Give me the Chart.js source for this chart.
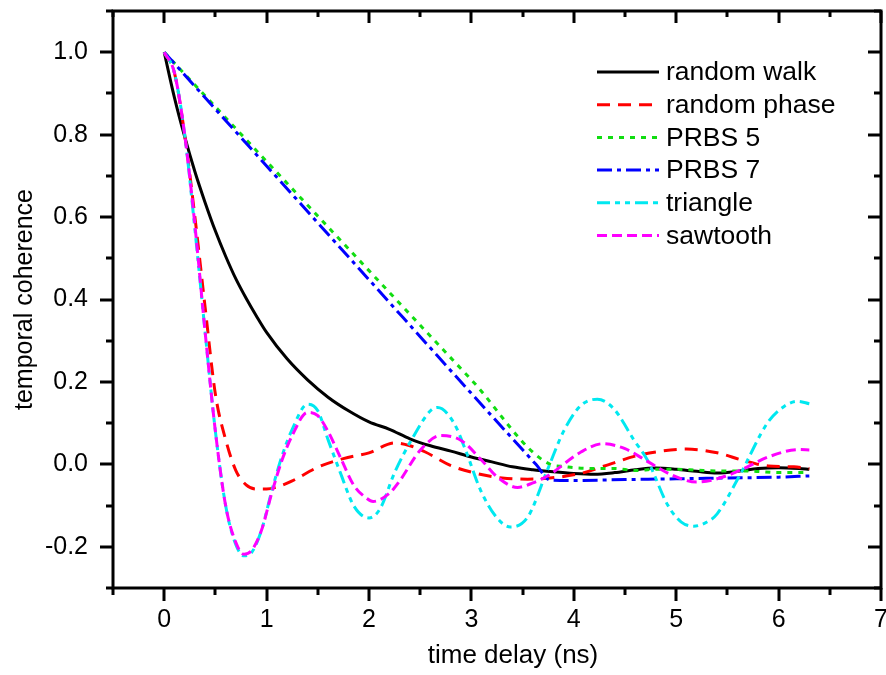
<!DOCTYPE html>
<html>
<head>
<meta charset="utf-8">
<script src="https://cdn.jsdelivr.net/npm/chart.js@4.4.0/dist/chart.umd.min.js"></script>
<style>
  html, body { margin: 0; padding: 0; background: #fff; }
</style>
</head>
<body>
<canvas id="coherence-chart" width="886" height="675"></canvas>
<script>
// series (time delay in ns, temporal coherence)
const seriesNames = ["random walk", "random phase", "PRBS 5", "PRBS 7", "triangle", "sawtooth"];

const tWalk = [0, 0.1, 0.2, 0.3, 0.4, 0.5, 0.6, 0.7, 0.8, 0.9, 1.0, 1.2, 1.4, 1.6, 1.8, 2.0, 2.2, 2.4, 2.6, 2.8, 3.0,
  3.2, 3.4, 3.6, 3.8, 4.0, 4.2, 4.4, 4.6, 4.8, 5.0, 5.2, 5.4, 5.6, 5.8, 6.0, 6.2, 6.3];
const walk = [1.0, 0.89, 0.795, 0.71, 0.635, 0.566, 0.505, 0.45, 0.403, 0.36, 0.32, 0.256, 0.205, 0.163, 0.13, 0.103, 0.085, 0.062, 0.045, 0.032, 0.018,
  0.006, -0.006, -0.013, -0.018, -0.022, -0.024, -0.02, -0.013, -0.009, -0.012, -0.017, -0.021, -0.017, -0.01, -0.008, -0.01, -0.012];

const tPhase = [0, 0.1, 0.2, 0.3, 0.4, 0.5, 0.6, 0.7, 0.8, 0.9, 1.0, 1.1, 1.25, 1.5, 1.75, 2.0, 2.25, 2.4, 2.55, 2.8, 3.05,
  3.3, 3.55, 3.85, 4.1, 4.3, 4.6, 4.85, 5.1, 5.4, 5.65, 5.9, 6.15, 6.3];
const phase = [1.0, 0.95, 0.8, 0.6, 0.38, 0.17, 0.06, -0.015, -0.05, -0.06, -0.06, -0.055, -0.04, -0.007, 0.014, 0.028, 0.052, 0.045, 0.03, -0.003, -0.022,
  -0.033, -0.036, -0.031, -0.02, -0.004, 0.02, 0.032, 0.037, 0.028, 0.01, -0.004, -0.006, -0.01];

const tPrbs5 = [0, 1, 2, 3, 3.77, 3.9, 4.0, 4.2, 4.4, 4.6, 4.8, 5.0, 5.2, 5.4, 5.7, 6.0, 6.3];
const prbs5 = [1.0, 0.735, 0.47, 0.205, 0.0, -0.005, -0.008, -0.01, -0.01, -0.015, -0.012, -0.012, -0.014, -0.016, -0.016, -0.02, -0.02];

const tPrbs7 = [0, 1, 2, 3, 3.63, 3.77, 4.0, 4.5, 5.0, 5.5, 6.0, 6.3];
const prbs7 = [1.0, 0.724, 0.448, 0.172, 0.0, -0.038, -0.039, -0.037, -0.035, -0.033, -0.031, -0.028];

const tTriangle = [0, 0.1, 0.2, 0.3, 0.4, 0.5, 0.6, 0.7, 0.78, 0.85, 0.95, 1.05, 1.15, 1.25, 1.4, 1.5, 1.6, 1.72, 1.85, 2.0, 2.11,
  2.25, 2.43, 2.6, 2.67, 2.83, 2.95, 3.09, 3.25, 3.38, 3.55, 3.74, 3.9, 4.07, 4.23, 4.39, 4.59, 4.72, 4.92, 5.05, 5.17,
  5.3, 5.4, 5.63, 5.89, 6.05, 6.19, 6.3];
const triangle = [1.0, 0.95, 0.8, 0.57, 0.32, 0.08, -0.1, -0.195, -0.222, -0.215, -0.16, -0.065, 0.02, 0.085, 0.146, 0.13, 0.06, -0.02, -0.1, -0.13, -0.107,
  -0.02, 0.066, 0.13, 0.138, 0.1, 0.03, -0.063, -0.13, -0.152, -0.128, -0.015, 0.08, 0.143, 0.158, 0.135, 0.058, 0.01, -0.1, -0.14, -0.15,
  -0.14, -0.12, -0.022, 0.1, 0.14, 0.153, 0.147];

const tSawtooth = [0, 0.1, 0.2, 0.3, 0.4, 0.5, 0.6, 0.7, 0.78, 0.85, 0.95, 1.05, 1.15, 1.25, 1.4, 1.5, 1.6, 1.72, 1.85, 1.98, 2.04,
  2.2, 2.3, 2.5, 2.7, 2.9, 3.1, 3.25, 3.45, 3.6, 3.75, 4.07, 4.28, 4.5, 4.7, 4.95, 5.2, 5.4, 5.63, 5.9, 6.2, 6.3];
const sawtooth = [1.0, 0.95, 0.8, 0.58, 0.32, 0.08, -0.1, -0.19, -0.218, -0.21, -0.16, -0.07, 0.01, 0.07, 0.126, 0.118, 0.08, 0.017, -0.05, -0.083, -0.09,
  -0.07, -0.04, 0.034, 0.07, 0.058, 0.01, -0.03, -0.056, -0.045, -0.027, 0.03, 0.05, 0.038, 0.01, -0.025, -0.043, -0.035, -0.014, 0.018, 0.036, 0.035];

const xTickValues = [0, 1, 2, 3, 4, 5, 6, 7];
const yTickValues = [-0.2, 0.0, 0.2, 0.4, 0.6, 0.8, 1.0];
const xTitle = 'time delay (ns)';

const FONT = "'Liberation Sans', Arial, sans-serif";

function toPoints(ts, vs) {
  return ts.map((t, i) => ({ x: t, y: vs[i] }));
}

// frame with ticks: out on bottom/left, in on top/right
const framePlugin = {
  id: 'frame',
  afterDatasetsDraw(chart) {
    const { ctx, chartArea: a, scales: { x, y } } = chart;
    ctx.save();
    ctx.strokeStyle = '#000';
    ctx.lineWidth = 3;
    ctx.lineCap = 'butt';
    ctx.strokeRect(a.left, a.top, a.right - a.left, a.bottom - a.top);
    ctx.beginPath();
    for (let k = -1; k <= 14; k++) {
      const px = Math.round(x.getPixelForValue(k / 2));
      const len = k % 2 === 0 ? 13 : 7;
      ctx.moveTo(px, a.bottom); ctx.lineTo(px, a.bottom + len);
      ctx.moveTo(px, a.top); ctx.lineTo(px, a.top + len - 1);
    }
    for (let k = -3; k <= 11; k++) {
      const py = Math.round(y.getPixelForValue(k / 10));
      const len = k % 2 === 0 ? 13 : 7;
      ctx.moveTo(a.left, py); ctx.lineTo(a.left - len, py);
      ctx.moveTo(a.right, py); ctx.lineTo(a.right - len, py);
    }
    ctx.stroke();

    // x axis title (sits a little right of the plot centre in the original)
    ctx.font = '26px ' + FONT;
    ctx.fillStyle = '#000';
    ctx.textAlign = 'center';
    ctx.textBaseline = 'middle';
    ctx.fillText(xTitle, 513, 656);
    ctx.restore();
  }
};

const legendPlugin = {
  id: 'insideLegend',
  afterDraw(chart) {
    const { ctx } = chart;
    ctx.save();
    ctx.font = '26.5px ' + FONT;
    ctx.textBaseline = 'middle';
    ctx.fillStyle = '#000';
    chart.data.datasets.forEach((ds, i) => {
      const yy = 72 + i * 32.7;
      ctx.strokeStyle = ds.borderColor;
      ctx.lineWidth = ds.borderWidth;
      ctx.setLineDash(ds.borderDash);
      ctx.beginPath();
      ctx.moveTo(597, yy);
      ctx.lineTo(659, yy);
      ctx.stroke();
      ctx.setLineDash([]);
      ctx.fillText(ds.label, 666, yy + 1);
    });
    ctx.restore();
  }
};

new Chart(document.getElementById("coherence-chart"), {
  type: 'line',
  data: {
    datasets: [
      { label: seriesNames[0], data: toPoints(tWalk, walk), borderColor: "#000000", borderWidth: 3, borderDash: [], order: 6 },
      { label: seriesNames[1], data: toPoints(tPhase, phase), borderColor: "#ff0000", borderWidth: 3, borderDash: [13, 8], order: 5 },
      { label: seriesNames[2], data: toPoints(tPrbs5, prbs5), borderColor: "#11dd11", borderWidth: 3, borderDash: [5, 6], order: 4 },
      { label: seriesNames[3], data: toPoints(tPrbs7, prbs7), borderColor: "#0000ff", borderWidth: 3, borderDash: [15, 5, 4, 5], order: 3 },
      { label: seriesNames[4], data: toPoints(tTriangle, triangle), borderColor: "#00e8f0", borderWidth: 3, borderDash: [13, 5, 5, 5, 5, 5], order: 2 },
      { label: seriesNames[5], data: toPoints(tSawtooth, sawtooth), borderColor: "#ff00ff", borderWidth: 3, borderDash: [10, 5], order: 1 }
    ]
  },
  options: {
    responsive: false,
    animation: false,
    devicePixelRatio: 1,
    layout: { padding: { top: 11, right: 5, left: 0, bottom: 0 } },
    elements: {
      point: { radius: 0 },
      line: { fill: false, cubicInterpolationMode: 'monotone' }
    },
    plugins: {
      legend: { display: false },
      tooltip: { enabled: false }
    },
    scales: {
      x: {
        type: 'linear',
        min: -0.5,
        max: 7,
        afterBuildTicks: s => { s.ticks = xTickValues.map(v => ({ value: v })); },
        afterFit: s => { s.height = 87; s.paddingLeft = 0; s.paddingRight = 0; },
        grid: { display: false, drawTicks: true, tickLength: 13 },
        border: { display: false },
        ticks: {
          font: { family: FONT, size: 25 }, color: '#000', padding: 4,
          maxRotation: 0, autoSkip: false,
          callback: v => String(v)
        }
      },
      y: {
        min: -0.3,
        max: 1.1,
        afterBuildTicks: s => { s.ticks = yTickValues.map(v => ({ value: v })); },
        afterFit: s => { s.width = 113; s.paddingTop = 0; s.paddingBottom = 0; },
        grid: { display: false, drawTicks: true, tickLength: 13 },
        border: { display: false },
        ticks: {
          font: { family: FONT, size: 25 }, color: '#000', padding: 12,
          autoSkip: false,
          callback: v => v.toFixed(1)
        },
        title: {
          display: true, text: 'temporal coherence', color: '#000',
          font: { family: FONT, size: 25 }, padding: { top: 10, bottom: 0 }
        }
      }
    }
  },
  plugins: [framePlugin, legendPlugin]
});
</script>
</body>
</html>
